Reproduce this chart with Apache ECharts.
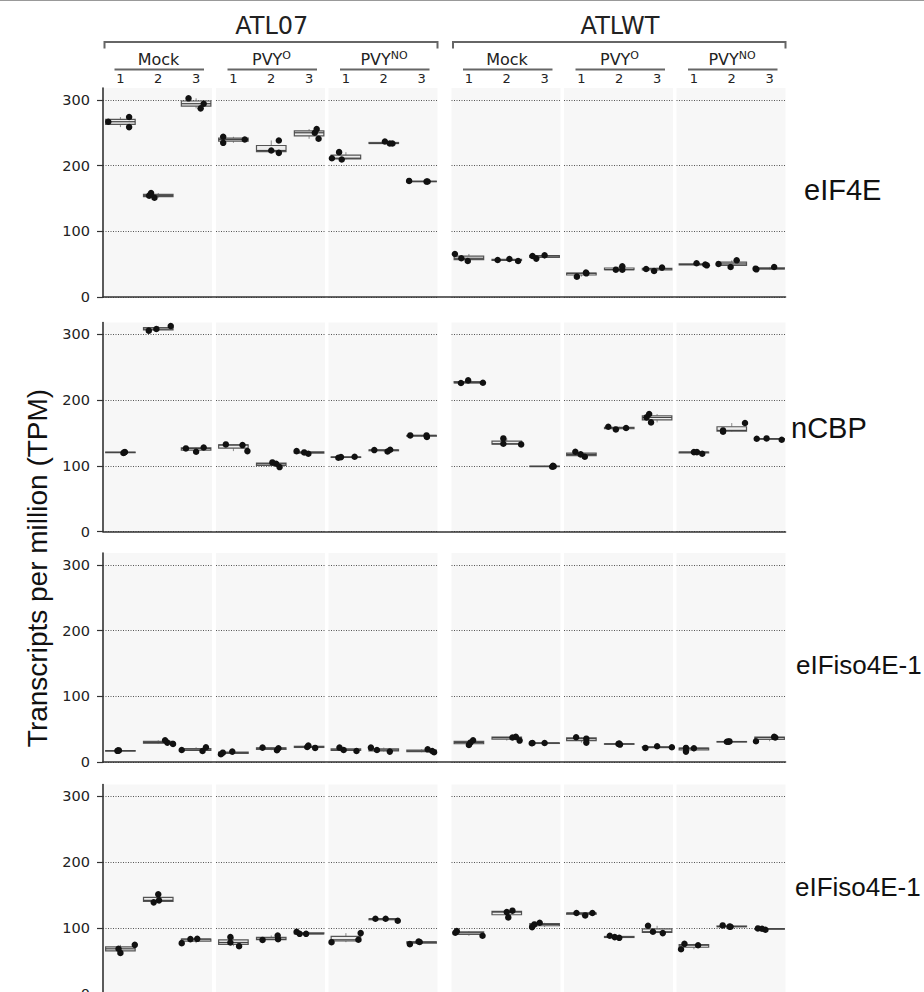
<!DOCTYPE html>
<html>
<head>
<meta charset="utf-8">
<title>Transcripts per million</title>
<script src="https://cdn.jsdelivr.net/npm/echarts@6/dist/echarts.min.js"></script>
<style>
  html, body { margin: 0; padding: 0; background: #fff; }
  #chart { width: 924px; height: 992px; }
</style>
</head>
<body>
<div id="chart"></div>
<script>
// --- data ---
const lines = ['ATL07', 'ATLWT'];
const treatmentBase = ['Mock', 'PVY', 'PVY'];
const treatmentSup = ['', 'O', 'NO'];
const replicates = ['1', '2', '3'];
const genes = ['eIF4E', 'nCBP', 'eIFiso4E-1', 'eIFiso4E-1'];
const yTicks = [0, 100, 200, 300];

// 18 replicates per gene (ATL07 Mock 1-3, PVY-O 1-3, PVY-NO 1-3, then ATLWT), 3 samples each
const eif4eTpm = [
    [258.5, 266.7, 273.8], [151.1, 154.2, 158.3], [287.0, 294.1, 302.3],
    [234.6, 239.7, 243.8], [219.3, 222.9, 238.2], [240.7, 249.9, 255.5],
    [209.2, 211.2, 220.4], [233.6, 233.6, 236.6], [175.6, 175.8, 176.6],
    [54.8, 58.9, 65.5], [54.8, 56.3, 57.9], [58.4, 62.4, 63.5],
    [31.0, 36.0, 37.1], [41.6, 41.6, 46.7], [39.6, 42.6, 44.7],
    [48.2, 49.5, 51.3], [45.7, 50.3, 55.8], [42.1, 43.1, 45.7]
];
const ncbpTpm = [
    [119.5, 120.3, 121.0], [305.6, 308.1, 312.7], [121.3, 126.4, 127.9],
    [122.3, 131.5, 132.5], [98.0, 103.0, 105.1], [118.3, 120.3, 122.3],
    [112.2, 113.2, 113.7], [121.8, 123.9, 124.4], [143.7, 146.2, 146.2],
    [225.9, 226.4, 229.9], [132.5, 133.5, 141.6], [98.5, 99.0, 100.0],
    [113.7, 117.3, 121.3], [155.3, 157.4, 159.4], [166.0, 173.6, 178.7],
    [118.3, 120.8, 120.8], [151.8, 153.8, 165.0], [139.6, 141.1, 141.6]
];
const iso4eATpm = [
    [17.0, 17.3, 17.6], [27.5, 29.5, 33.1], [16.8, 18.3, 22.4],
    [11.7, 14.2, 15.8], [17.8, 20.9, 21.9], [21.4, 22.9, 24.9],
    [16.8, 18.3, 21.9], [15.8, 18.3, 21.9], [14.8, 16.8, 19.3],
    [26.0, 29.5, 33.1], [32.6, 37.2, 38.2], [28.5, 29.0, 29.0],
    [29.5, 35.5, 37.7], [26.5, 27.5, 28.0], [21.4, 22.4, 23.9],
    [15.8, 20.9, 21.4], [30.8, 31.0, 31.3], [31.6, 37.2, 38.2]
];
const iso4eBTpm = [
    [61.8, 68.0, 74.0], [138.7, 141.7, 150.9], [76.6, 82.7, 83.2],
    [72.0, 77.6, 85.8], [81.5, 82.7, 88.3], [90.8, 90.8, 93.9],
    [78.1, 81.7, 91.9], [110.7, 113.7, 113.7], [75.1, 78.3, 79.1],
    [87.8, 92.4, 94.9], [115.8, 123.9, 126.0], [101.0, 105.1, 107.6],
    [118.8, 122.4, 122.4], [84.7, 85.8, 87.8], [91.9, 93.9, 103.0],
    [67.3, 73.5, 75.6], [101.5, 101.8, 103.6], [97.0, 98.5, 99.0]
];

// horizontal strip offsets of each sample (fraction of a replicate slot), same order
const eif4eJitter = [
    [0.23, -0.32, 0.23], [-0.10, -0.24, -0.19], [0.12, 0.20, -0.20],
    [-0.27, 0.30, -0.27], [0.20, 0.00, 0.20], [0.25, 0.15, 0.20],
    [-0.11, -0.37, -0.18], [0.16, 0.23, 0.03], [0.13, 0.16, -0.33],
    [-0.03, -0.20, -0.37], [0.30, -0.24, 0.07], [-0.22, -0.32, 0.00],
    [-0.12, 0.13, 0.12], [-0.09, 0.08, 0.08], [-0.08, -0.29, 0.13],
    [0.34, 0.30, 0.07], [-0.03, -0.35, 0.13], [-0.35, -0.37, 0.12]
];
const ncbpJitter = [
    [0.08, 0.10, 0.12], [-0.25, -0.05, 0.33], [0.00, -0.27, 0.20],
    [0.37, 0.24, -0.20], [0.22, 0.13, 0.03], [-0.02, -0.13, -0.33],
    [-0.20, -0.13, 0.23], [0.10, -0.25, 0.17], [0.14, -0.30, 0.13],
    [-0.21, 0.37, -0.02], [0.38, -0.09, -0.09], [0.20, 0.24, 0.22],
    [0.09, -0.02, -0.16], [-0.09, 0.18, -0.29], [-0.16, -0.28, -0.21],
    [0.22, 0.00, 0.08], [-0.23, -0.23, 0.35], [0.32, -0.34, -0.08]
];
const iso4eAJitter = [
    [-0.08, -0.06, -0.04], [0.39, 0.24, 0.18], [0.17, -0.38, 0.26],
    [-0.33, -0.28, -0.03], [0.15, 0.19, -0.23], [0.16, -0.05, -0.02],
    [0.28, -0.06, -0.17], [0.16, -0.18, -0.34], [0.33, 0.28, 0.16],
    [0.00, 0.04, 0.11], [0.34, 0.15, 0.24], [-0.34, -0.32, 0.00],
    [0.13, 0.13, -0.14], [0.02, -0.02, 0.00], [-0.31, 0.39, 0.00],
    [-0.21, 0.00, -0.21], [-0.13, -0.09, -0.06], [-0.36, 0.15, 0.12]
];
const iso4eBJitter = [
    [0.00, -0.05, 0.38], [-0.12, 0.02, 0.00], [-0.38, -0.15, 0.03],
    [0.15, -0.08, -0.08], [-0.23, 0.18, 0.17], [-0.25, -0.08, -0.33],
    [-0.38, 0.33, 0.39], [0.37, -0.22, 0.05], [-0.31, -0.05, -0.08],
    [0.36, -0.36, -0.32], [0.04, 0.00, 0.15], [-0.33, -0.27, -0.13],
    [0.10, -0.13, 0.29], [0.00, -0.12, -0.25], [0.15, -0.11, -0.24],
    [-0.34, 0.11, -0.25], [-0.03, -0.06, -0.24], [-0.11, -0.20, -0.31]
];

const geneValues = [eif4eTpm, ncbpTpm, iso4eATpm, iso4eBTpm];
const geneJitter = [eif4eJitter, ncbpJitter, iso4eAJitter, iso4eBJitter];

// --- layout ---
const panelLeft = [103, 216, 328.5, 451.5, 564, 676.5];
const panelWidth = 109;
const rowTop = [88, 322.5, 553, 784.5];
const rowHeight = 209;
const boxWidth = 0.78;
const headerFont = 'DejaVu Sans';
const labelFont = 'Liberation Sans';

function quantile(sorted, p) {
    const h = (sorted.length - 1) * p;
    const lo = Math.floor(h);
    const hi = Math.ceil(h);
    return sorted[lo] + (sorted[hi] - sorted[lo]) * (h - lo);
}

function boxStats(samples, rep) {
    const s = samples.slice().sort((a, b) => a - b);
    return [rep, s[0], quantile(s, 0.25), quantile(s, 0.5), quantile(s, 0.75), s[s.length - 1]];
}

function renderBox(params, api) {
    const x = api.value(0);
    const top = api.coord([x, api.value(5)]);
    const q3 = api.coord([x, api.value(4)]);
    const med = api.coord([x, api.value(3)]);
    const q1 = api.coord([x, api.value(2)]);
    const bottom = api.coord([x, api.value(1)]);
    const half = api.size([boxWidth, 0])[0] / 2;
    const whisker = { stroke: '#8a8a8a', lineWidth: 1 };
    return {
        type: 'group',
        children: [
            { type: 'line', shape: { x1: top[0], y1: top[1], x2: q3[0], y2: q3[1] }, style: whisker },
            { type: 'line', shape: { x1: q1[0], y1: q1[1], x2: bottom[0], y2: bottom[1] }, style: whisker },
            {
                type: 'rect',
                shape: { x: q3[0] - half, y: q3[1], width: half * 2, height: Math.max(q1[1] - q3[1], 0.5) },
                style: { fill: '#ededed', stroke: '#555', lineWidth: 1.2 }
            },
            {
                type: 'line',
                shape: { x1: med[0] - half, y1: med[1], x2: med[0] + half, y2: med[1] },
                style: { stroke: '#444', lineWidth: 1.2 }
            }
        ]
    };
}

const grids = [];
const xAxes = [];
const yAxes = [];
const series = [];

genes.forEach((gene, r) => {
    for (let p = 0; p < 6; p++) {
        const gi = grids.length;
        grids.push({
            left: panelLeft[p], top: rowTop[r], width: panelWidth, height: rowHeight,
            show: true, backgroundColor: '#f7f7f7', borderWidth: 0,
            outerBoundsMode: 'none'
        });
        xAxes.push({
            gridIndex: gi,
            type: 'value',
            min: -0.46,
            max: 2.42,
            position: 'top',
            axisLine: { show: false },
            axisTick: { show: false },
            splitLine: { show: false },
            axisLabel: {
                show: r === 0,
                customValues: [0, 1, 2],
                formatter: v => replicates[Math.round(v)],
                margin: 3,
                fontSize: 13,
                fontFamily: headerFont,
                color: '#222'
            }
        });
        const first = p === 0;
        yAxes.push({
            gridIndex: gi,
            type: 'value',
            min: 0,
            max: 318,
            axisLine: { show: first, onZero: false, lineStyle: { color: '#333', width: 1.6 } },
            axisTick: { show: first, customValues: yTicks, length: 6, lineStyle: { color: '#333', width: 1.2 } },
            axisLabel: {
                show: first,
                customValues: yTicks,
                margin: 13,
                fontSize: 14.5,
                fontFamily: headerFont,
                color: '#222'
            },
            splitLine: { show: true, lineStyle: { color: '#555', width: 1, type: [1, 1.5] } }
        });

        const boxes = [];
        const points = [];
        for (let k = 0; k < 3; k++) {
            const idx = p * 3 + k;
            const samples = geneValues[r][idx];
            boxes.push(boxStats(samples, k));
            samples.forEach((v, j) => points.push([k + geneJitter[r][idx][j], v]));
        }
        series.push({
            type: 'custom',
            name: gene + ' box',
            xAxisIndex: gi,
            yAxisIndex: gi,
            renderItem: renderBox,
            encode: { x: 0, y: [1, 2, 3, 4, 5] },
            data: boxes,
            z: 2,
            silent: true
        });
        series.push({
            type: 'scatter',
            name: gene,
            xAxisIndex: gi,
            yAxisIndex: gi,
            data: points,
            symbolSize: 6.5,
            itemStyle: { color: '#111', opacity: 1 },
            z: 3,
            silent: true
        });
    }
});

// one wide grid per row, only for the continuous baseline under all panels
genes.forEach((gene, r) => {
    const gi = grids.length;
    grids.push({
        left: panelLeft[0], top: rowTop[r], width: panelLeft[5] + panelWidth - panelLeft[0], height: rowHeight,
        outerBoundsMode: 'none'
    });
    xAxes.push({
        gridIndex: gi, type: 'value', min: 0, max: 1,
        axisLine: { show: true, onZero: false, lineStyle: { color: '#333', width: 1.6 } },
        axisTick: { show: false }, axisLabel: { show: false }, splitLine: { show: false }
    });
    yAxes.push({ gridIndex: gi, type: 'value', min: 0, max: 1, show: false });
});

// header: line names, brackets, treatments, right-hand gene names
const graphics = [
    { type: 'line', shape: { x1: 0, y1: 0.5, x2: 924, y2: 0.5 }, style: { stroke: '#999', lineWidth: 1 } }
];
lines.forEach((name, g) => {
    const left = panelLeft[g * 3];
    const right = panelLeft[g * 3 + 2] + panelWidth;
    graphics.push({
        type: 'text', x: (left + right) / 2 + 1.5, y: 26,
        style: { text: name, fontSize: 24, fontFamily: headerFont, fill: '#222', textAlign: 'center', textVerticalAlign: 'middle' }
    });
    graphics.push({
        type: 'polyline',
        shape: { points: [[left + 1.5, 48.5], [left + 1.5, 42], [right, 42], [right, 48.5]] },
        style: { stroke: '#666', lineWidth: 2, fill: null }
    });
});
panelLeft.forEach((left, p) => {
    const t = p % 3;
    const label = treatmentSup[t] ? '{b|' + treatmentBase[t] + '}{s|' + treatmentSup[t] + '}' : '{b|' + treatmentBase[t] + '}';
    graphics.push({
        type: 'text', x: left + 55.5, y: 59.5,
        style: {
            text: label, textAlign: 'center', textVerticalAlign: 'middle', fill: '#222',
            rich: {
                b: { fontSize: 16, fontFamily: headerFont, lineHeight: 20, fill: '#222' },
                s: { fontSize: 11, fontFamily: headerFont, lineHeight: 10, verticalAlign: 'top', fill: '#222' }
            }
        }
    });
    graphics.push({
        type: 'line',
        shape: { x1: left + 11.5, y1: 69.5, x2: left + panelWidth - 8, y2: 69.5 },
        style: { stroke: '#666', lineWidth: 2 }
    });
});
const geneLabelPos = [[804, 190, 29], [791, 428, 29], [796, 665, 26], [795, 887, 26]];
genes.forEach((gene, r) => {
    graphics.push({
        type: 'text', x: geneLabelPos[r][0], y: geneLabelPos[r][1],
        style: { text: gene, fontSize: geneLabelPos[r][2], fontFamily: labelFont, fill: '#111', textAlign: 'left', textVerticalAlign: 'middle' }
    });
});
graphics.push({
    type: 'text', x: 37, y: 568, rotation: Math.PI / 2,
    style: { text: 'Transcripts per million (TPM)', fontSize: 28, fontFamily: labelFont, fill: '#111', textAlign: 'center', textVerticalAlign: 'middle' }
});

const chartDom = document.getElementById('chart');
const myChart = echarts.init(chartDom, null, { renderer: 'svg' });
myChart.setOption({
    animation: false,
    backgroundColor: '#fff',
    grid: grids,
    xAxis: xAxes,
    yAxis: yAxes,
    series: series,
    graphic: { elements: graphics }
});
</script>
</body>
</html>
